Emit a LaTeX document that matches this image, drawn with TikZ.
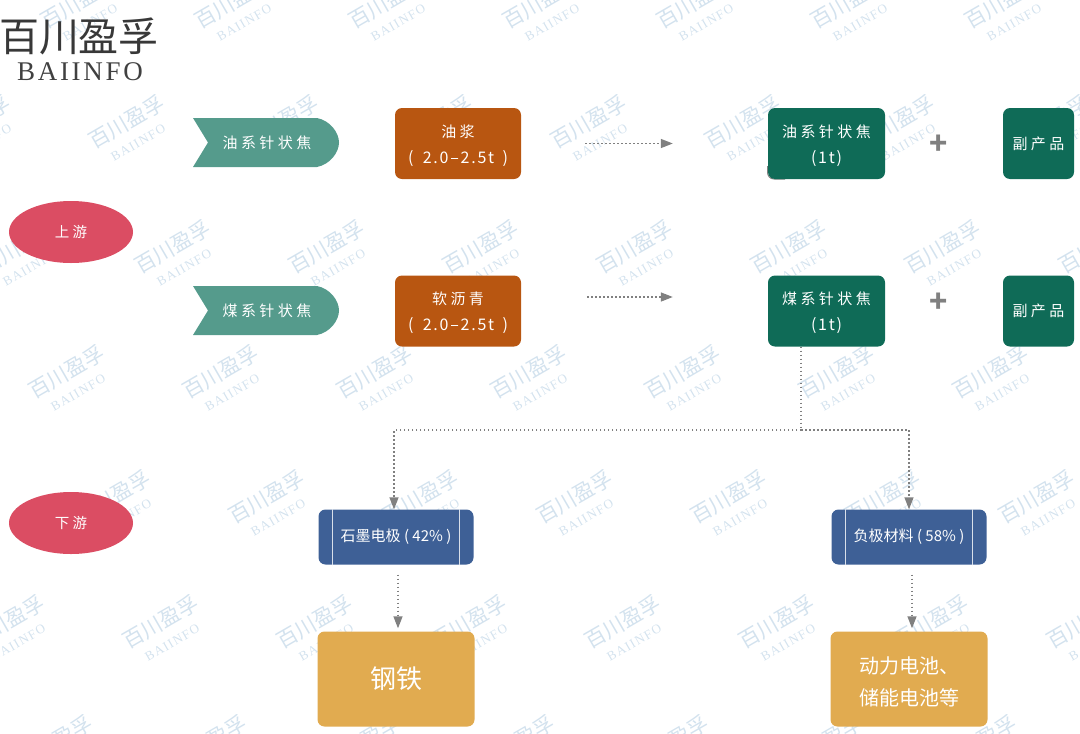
\documentclass[tikz,border=0pt]{standalone}
\usepackage{fontspec}
\usepackage{tikz}
\usetikzlibrary{positioning,arrows.meta,calc,shapes.geometric}
\setmainfont{Noto Sans CJK SC}
\newfontfamily\widefont[LetterSpace=23]{Noto Sans CJK SC}
\newfontfamily\midfont[LetterSpace=11]{Noto Sans CJK SC}
\newfontfamily\serifwide[LetterSpace=10]{Liberation Serif}
\definecolor{tagcol}{HTML}{559B8C}
\definecolor{rawcol}{HTML}{B85611}
\definecolor{cokecol}{HTML}{0F6B57}
\definecolor{ovalcol}{HTML}{DB4D63}
\definecolor{usecol}{HTML}{3E6096}
\definecolor{endcol}{HTML}{E1AB50}
\definecolor{flowcol}{HTML}{808080}
\definecolor{wmcol}{HTML}{D3E2EE}
\newcommand{\lowfirst}{\rule{0pt}{17pt}}
\newcommand{\subline}[1]{{\midfont\fontsize{16}{26}\selectfont #1}}
\tikzset{
  box/.style={rounded corners=7pt,inner sep=0pt,text=white,align=center},
  rawbox/.style={box,fill=rawcol,minimum width=126pt,minimum height=71pt,font=\widefont\fontsize{15}{26}\selectfont},
  cokebox/.style={box,fill=cokecol,minimum height=71pt,font=\widefont\fontsize{15}{26}\selectfont},
  usebox/.style={box,fill=usecol,minimum width=155pt,minimum height=55pt,font=\fontsize{15}{18}\selectfont},
  endbox/.style={box,fill=endcol,minimum width=157pt,minimum height=95pt},
  oval/.style={ellipse,fill=ovalcol,text=white,inner sep=0pt,minimum width=124pt,minimum height=62pt,font=\widefont\fontsize{14.5}{16}\selectfont},
  tagtext/.style={text=white,inner sep=0pt,font=\widefont\fontsize{15}{16}\selectfont},
  flow/.style={draw=flowcol,dash pattern=on 1.5pt off 2.5pt,line width=1.5pt},
  wmark/.style={text=wmcol,rotate=30,align=center,inner sep=0pt,font=\fontsize{21}{20}\selectfont},
}
\begin{document}
\begin{tikzpicture}[x=1pt,y=-1pt,>={Triangle[length=12pt,width=9pt]}]
\useasboundingbox (0,0) rectangle (1080,734);
% watermark
\foreach \ry/\rx in {10/83,130/-23,255/23,380/71,505/117,630/11,750/59}
  \foreach \c in {0,...,7}
    \node[wmark] (wm-\ry-\c) at ({\rx+154*\c},\ry) {百川盈孚\\{\serifwide\fontsize{13}{13}\selectfont BAIINFO}};
% logo
\node[text=black!78,inner sep=0pt,font=\fontsize{40}{40}\selectfont] (logocn) at (79,36) {百川盈孚};
\node[text=black!75,inner sep=0pt,font=\serifwide\fontsize{27}{27}\selectfont] (logoen) at (80,72) {BAIINFO};
% left ovals
\node[oval] (up) at (71,232) {上游};
\node[oval] (down) at (71,523) {下游};
% tags
\foreach \ty in {142.5,310.5}
  \fill[tagcol] (193,\ty-24.5) -- (317,\ty-24.5) .. controls (330,\ty-22) and (339,\ty-10) .. (339,\ty)
     .. controls (339,\ty+10) and (330,\ty+22) .. (317,\ty+24.5) -- (193,\ty+24.5) -- (208,\ty) -- cycle;
\node[tagtext] (oiltag) at (267,143) {油系针状焦};
\node[tagtext] (coaltag) at (267,311) {煤系针状焦};
% raw material
\node[rawbox] (slurry) at (458,143.5) {\lowfirst 油浆\\\subline{(\hspace{4pt} 2.0–2.5t\hspace{3pt} )}};
\node[rawbox] (pitch) at (458,311) {\lowfirst 软沥青\\\subline{(\hspace{4pt} 2.0–2.5t\hspace{3pt} )}};
% coke
\draw[flowcol,line width=1pt] (767.5,166) -- (767.5,172) .. controls (767.5,176) and (770,179) .. (774,179) -- (785,179);
\node[cokebox,minimum width=117pt] (oilcoke) at (826.5,143.5) {\lowfirst 油系针状焦\\\subline{(1t)}};
\node[cokebox,minimum width=117pt] (coalcoke) at (826.5,311) {\lowfirst 煤系针状焦\\\subline{(1t)}};
\node[cokebox,minimum width=71pt] (byone) at (1038.5,143.5) {副产品};
\node[cokebox,minimum width=71pt] (bytwo) at (1038.5,311) {副产品};
\node[text=flowcol,inner sep=0pt,font=\bfseries\fontsize{30}{30}\selectfont] (plusone) at (938.5,145) {+};
\node[text=flowcol,inner sep=0pt,font=\bfseries\fontsize{30}{30}\selectfont] (plustwo) at (938.5,303) {+};
% downstream
\node[usebox] (graphite) at (396,537) {\raisebox{-1.5pt}{石墨电极 ( 42\% )}};
\node[usebox] (anode) at (909,537) {\raisebox{-1.5pt}{负极材料 ( 58\% )}};
\foreach \n in {graphite,anode} {
  \draw[white!80!usecol,line width=1pt] ([xshift=14pt]\n.north west) -- ([xshift=14pt]\n.south west);
  \draw[white!80!usecol,line width=1pt] ([xshift=-14pt]\n.north east) -- ([xshift=-14pt]\n.south east);
}
\node[endbox,font=\fontsize{26}{30}\selectfont] (steel) at (396,679) {\raisebox{-1.5pt}{钢铁}};
\node[endbox,font=\fontsize{20}{32}\selectfont] (battery) at (909,679) {\rule{0pt}{23pt}动力电池、\\储能电池等};
% flows
\coordinate (fork) at (801,430);
\draw[flow,->,shorten <=64pt,shorten >=95pt] (slurry.east) -- (oilcoke.west);
\draw[flow,->,shorten <=66pt,shorten >=95pt] ([yshift=14pt]pitch.east) -- ([yshift=14pt]coalcoke.west);
\draw[flow] ([xshift=-25.5pt]coalcoke.south) -- (fork);
\draw[flow,->] (fork) -| ([xshift=-2pt]graphite.north);
\draw[flow,->] (fork) -| (anode.north);
\draw[flow,->,shorten <=10pt,shorten >=3pt] ([xshift=2pt]graphite.south) -- ([xshift=2pt]steel.north);
\draw[flow,->,shorten <=10pt,shorten >=3pt] ([xshift=3pt]anode.south) -- ([xshift=3pt]battery.north);
\end{tikzpicture}
\end{document}
